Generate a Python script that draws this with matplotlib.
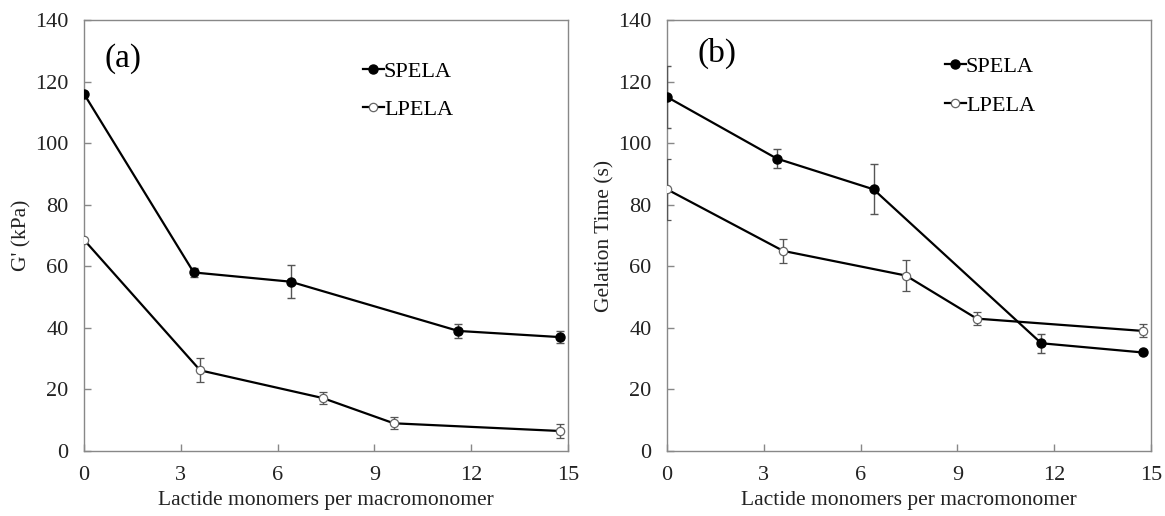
import matplotlib as mpl
mpl.use('Agg')
import matplotlib.pyplot as plt

plt.rcParams['font.family'] = ['Liberation Serif', 'DejaVu Serif']

# (a) storage modulus
a_spela_x = [0, 3.4, 6.4, 11.6, 14.75]
a_spela_y = [116, 58, 55, 39, 37]
a_spela_err = [0, 1.5, 5.4, 2.3, 1.9]
a_lpela_x = [0, 3.6, 7.4, 9.6, 14.75]
a_lpela_y = [68.6, 26.2, 17.2, 9.0, 6.5]
a_lpela_err = [0, 3.9, 2.0, 1.9, 2.4]

# (b) gelation time
b_spela_x = [0, 3.4, 6.4, 11.6, 14.75]
b_spela_y = [115, 95, 85, 35, 32]
b_spela_err = [10, 3.1, 8.1, 3.1, 0]
b_lpela_x = [0, 3.6, 7.4, 9.6, 14.75]
b_lpela_y = [85, 65, 57, 43, 39]
b_lpela_err = [10, 4, 5.1, 2, 2.1]

xticks = [0, 3, 6, 9, 12, 15]
yticks = [0, 20, 40, 60, 80, 100, 120, 140]

fig = plt.figure(figsize=(11.65, 5.16), dpi=100)
ax1 = fig.add_axes([84/1165, 1-451/516, 484/1165, 431/516])
ax2 = fig.add_axes([667/1165, 1-451/516, 484/1165, 431/516])


def draw_panel(ax, sx, sy, se, lx, ly, le, tag, tag_xy, ylabel, leg_xy):
    ax.errorbar(sx, sy, yerr=se, color='black', lw=1.6, marker='o', ms=6.5,
                mfc='black', mec='black', ecolor='#555555', elinewidth=1.0,
                capsize=3, capthick=1.0, label='SPELA', zorder=3)
    ax.errorbar(lx, ly, yerr=le, color='black', lw=1.6, marker='o', ms=6,
                mfc='white', mec='#666666', mew=0.9, ecolor='#555555',
                elinewidth=1.0, capsize=3, capthick=1.0, label='LPELA',
                zorder=3)
    ax.set_xlim(0, 15)
    ax.set_ylim(0, 140)
    ax.set_xticks(xticks)
    ax.set_yticks(yticks)
    ax.tick_params(direction='in', length=5, width=1, color='#888888',
                   labelsize=16, labelcolor='#222222', pad=11)
    for s in ax.spines.values():
        s.set_color('#888888')
        s.set_linewidth(1)
    ax.set_xlabel('Lactide monomers per macromonomer', fontsize=15.5,
                  labelpad=4, color='#222222')
    ax.set_ylabel(ylabel, fontsize=15.5, labelpad=3, color='#222222')
    ax.text(tag_xy[0], tag_xy[1], tag, fontsize=24, ha='center', va='center')
    handles, labels = ax.get_legend_handles_labels()
    handles = [h[0] for h in handles]
    ax.legend(handles, labels, loc='upper left', bbox_to_anchor=leg_xy,
              frameon=False, fontsize=16, handlelength=0.95,
              handletextpad=0.0, labelspacing=0.8, borderpad=0,
              borderaxespad=0)


draw_panel(ax1, a_spela_x, a_spela_y, a_spela_err,
           a_lpela_x, a_lpela_y, a_lpela_err,
           '(a)', (1.2, 127.6), "G' (kPa)", (0.576, 0.905))
draw_panel(ax2, b_spela_x, b_spela_y, b_spela_err,
           b_lpela_x, b_lpela_y, b_lpela_err,
           '(b)', (1.55, 129), 'Gelation Time (s)', (0.574, 0.915))

plt.savefig('out.png', dpi=100)
plt.close()
